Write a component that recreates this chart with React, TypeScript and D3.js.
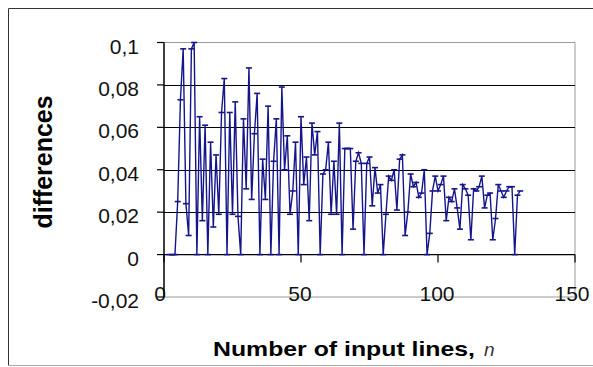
import React from "react";
import * as d3 from "d3";

// n = number of input lines (x), starting at 2
const inputLines: number[] = d3.range(2, 131);

const differences: number[] = [
  0, 0, 0, 0.025, 0.073, 0.097, 0.024, 0.009, 0.097, 0.1,
  0, 0.065, 0.016, 0.061, 0, 0.053, 0.013, 0.047, 0.019, 0.067,
  0.083, 0, 0.067, 0.019, 0.072, 0.018, 0, 0.064, 0.031, 0.088,
  0.026, 0.057, 0.076, 0, 0.045, 0.026, 0.07, 0, 0.044, 0.064,
  0, 0.079, 0.04, 0.056, 0.019, 0.03, 0.053, 0, 0.065, 0.033,
  0.046, 0.016, 0.062, 0.047, 0.058, 0, 0.038, 0.04, 0.053, 0.019,
  0.044, 0.019, 0.062, 0, 0.05, 0.05, 0.05, 0.012, 0.044, 0.048,
  0.043, 0, 0.043, 0.046, 0.023, 0.041, 0.029, 0.033, 0, 0.019,
  0.037, 0.035, 0.04, 0.021, 0.045, 0.047, 0.009, 0.02, 0.038, 0.032,
  0.034, 0.027, 0.029, 0.04, 0, 0.01, 0.03, 0.037, 0.03, 0.033,
  0.037, 0.016, 0.027, 0.025, 0.031, 0.022, 0.012, 0.033, 0.031, 0.028,
  0.007, 0.031, 0.03, 0.032, 0.037, 0.022, 0.028, 0.029, 0.007, 0.017,
  0.033, 0.03, 0.027, 0.03, 0.032, 0.032, 0, 0.028, 0.03,
];

const yTicks: number[] = [-0.02, 0, 0.02, 0.04, 0.06, 0.08, 0.1];
const xTicks: number[] = [0, 50, 100, 150];
const xTitle = "Number of input lines, ";
const xTitleVar = "n";
const yTitle = "differences";

const W = 593;
const H = 367;

export default function App() {
  const x = d3.scaleLinear().domain([0, 150]).range([164, 575]);
  const y = d3.scaleLinear().domain([-0.02, 0.1]).range([297, 42.5]);

  const pts = inputLines.map((n, i) => [n, differences[i]] as [number, number]);
  const line = d3
    .line<[number, number]>()
    .x((d) => x(d[0]))
    .y((d) => y(d[1]));

  const fmt = (v: number) => (v === 0 ? "0" : String(v).replace(".", ","));
  const font = "'Liberation Sans', Arial, sans-serif";
  const lineColor = "#14148c";

  return (
    <svg
      width={W}
      height={H}
      style={{ position: "absolute", left: 0, top: 0, background: "#fff" }}
    >
      {/* outer chart border */}
      <line x1={8.5} y1={8.5} x2={W} y2={8.5} stroke="#333" strokeWidth={1} />
      <line x1={8.5} y1={8.5} x2={8.5} y2={365.5} stroke="#333" strokeWidth={1} />
      <line x1={8.5} y1={365.5} x2={W} y2={365.5} stroke="#aaa" strokeWidth={1} />

      {/* plot area border (gray) */}
      <line x1={x(0)} y1={y(0.1)} x2={x(150)} y2={y(0.1)} stroke="#999" />
      <line x1={x(150)} y1={y(0.1)} x2={x(150)} y2={y(-0.02)} stroke="#999" />
      <line x1={x(0)} y1={y(-0.02)} x2={x(150)} y2={y(-0.02)} stroke="#999" />

      {/* gridlines */}
      {yTicks
        .filter((v) => v > 0 && v < 0.1)
        .map((v) => (
          <line
            key={"g" + v}
            x1={x(0)}
            x2={x(150)}
            y1={Math.round(y(v)) + 0.5}
            y2={Math.round(y(v)) + 0.5}
            stroke="#000"
            strokeWidth={1.2}
          />
        ))}

      {/* x axis at y=0 */}
      <line x1={x(0)} x2={x(150)} y1={y(0)} y2={y(0)} stroke="#000" strokeWidth={1.2} />
      {xTicks.map((v) => (
        <line key={"xt" + v} x1={x(v)} x2={x(v)} y1={y(0)} y2={y(0) + 8} stroke="#000" strokeWidth={1.2} />
      ))}

      {/* y axis */}
      <line x1={x(0)} x2={x(0)} y1={y(0.1)} y2={y(-0.02)} stroke="#000" strokeWidth={1.5} />
      {yTicks.map((v) => (
        <line key={"yt" + v} x1={x(0) - 7} x2={x(0)} y1={y(v)} y2={y(v)} stroke="#000" strokeWidth={1.2} />
      ))}

      {/* y tick labels */}
      {yTicks.map((v) => (
        <text
          key={"yl" + v}
          x={139}
          y={y(v) + 11}
          textAnchor="end"
          fontFamily={font}
          fontSize={21}
          fill="#111"
        >
          {fmt(v)}
        </text>
      ))}

      {/* x tick labels */}
      {xTicks.map((v) => (
        <text
          key={"xl" + v}
          x={v === 0 ? 160 : v === 150 ? 572 : x(v) - 1}
          y={301}
          textAnchor="middle"
          fontFamily={font}
          fontSize={21}
          fill="#111"
        >
          {v}
        </text>
      ))}

      {/* data line */}
      <path d={line(pts) || ""} fill="none" stroke={lineColor} strokeWidth={1.4} strokeLinejoin="miter" />
      {pts.map((d, i) => (
        <line
          key={"m" + i}
          x1={x(d[0]) - 3}
          x2={x(d[0]) + 3}
          y1={y(d[1])}
          y2={y(d[1])}
          stroke={lineColor}
          strokeWidth={1.6}
        />
      ))}

      {/* axis titles */}
      <text
        x={213}
        y={356}
        fontFamily={font}
        fontSize={21}
        fontWeight="bold"
        fill="#000"
        textLength={262}
        lengthAdjust="spacingAndGlyphs"
      >
        {xTitle}
      </text>
      <text x={484} y={356} fontFamily={font} fontSize={19} fontStyle="italic" fill="#333">
        {xTitleVar}
      </text>
      <text
        transform="translate(52,162) rotate(-90)"
        textAnchor="middle"
        fontFamily={font}
        fontSize={25}
        fontWeight="bold"
        fill="#000"
        textLength={133}
        lengthAdjust="spacingAndGlyphs"
      >
        {yTitle}
      </text>
    </svg>
  );
}
